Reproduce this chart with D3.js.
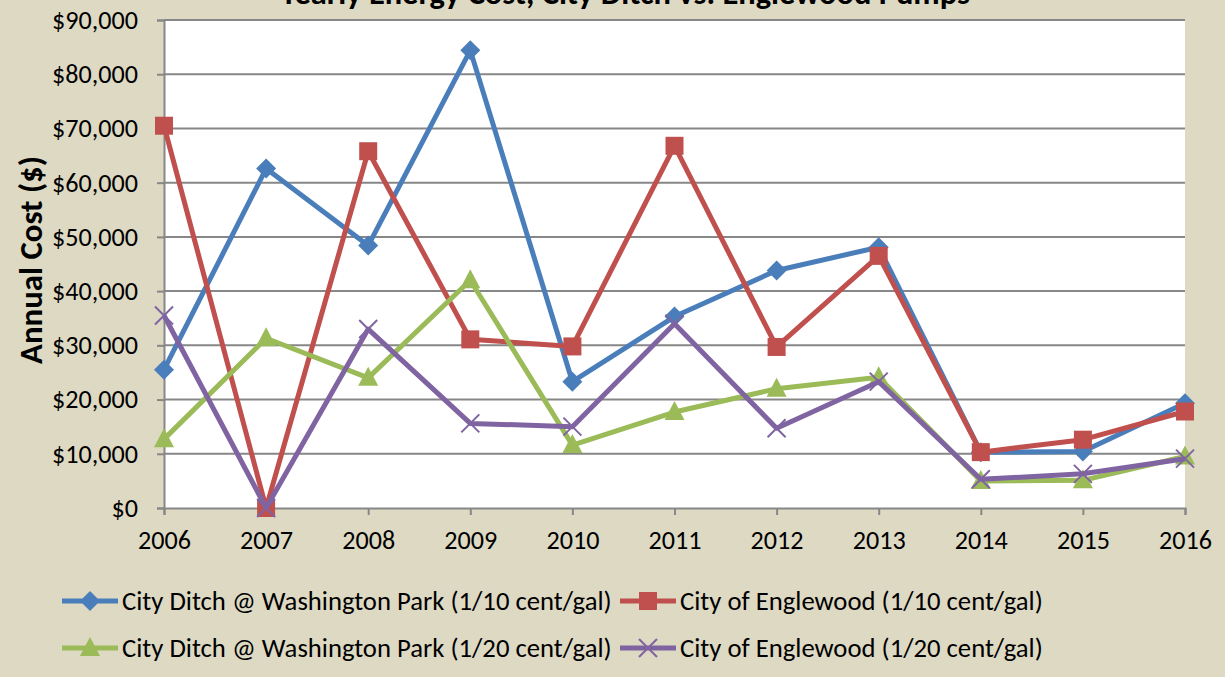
<!DOCTYPE html>
<html>
<head>
<meta charset="utf-8">
<script src="https://cdn.jsdelivr.net/npm/d3@7"></script>
<style>
  body { margin: 0; background: #ddd9c3; }
  svg { display: block; font-family: Carlito, Calibri, Lato, sans-serif; }
</style>
</head>
<body>
<div class="canvas"></div>
<script>
// chart data
const years = [2006, 2007, 2008, 2009, 2010, 2011, 2012, 2013, 2014, 2015, 2016]
const yTicks = [0, 10000, 20000, 30000, 40000, 50000, 60000, 70000, 80000, 90000]
const seriesNames = [
    'City Ditch @ Washington Park (1/10 cent/gal)',
    'City of Englewood (1/10 cent/gal)',
    'City Ditch @ Washington Park (1/20 cent/gal)',
    'City of Englewood (1/20 cent/gal)'
]
const ditch10 = [25500, 62600, 48400, 84400, 23300, 35300, 43800, 48100, 10300, 10400, 19300]
const englewood10 = [70500, 0, 65800, 31100, 29800, 66800, 29700, 46500, 10300, 12600, 17800]
const ditch20 = [12700, 31300, 24000, 42000, 11600, 17700, 22000, 24100, 5000, 5100, 9500]
const englewood20 = [35500, 0, 33000, 15600, 15000, 34000, 14700, 23300, 5300, 6300, 9100]
const titleText = 'Yearly Energy Cost, City Ditch vs. Englewood Pumps'
const yTitle = 'Annual Cost ($)'

const colors = ['#4a7ebb', '#c0504d', '#9bbb59', '#8064a2']
const symbols = ['diamond', 'square', 'triangle', 'x']
const allSeries = [ditch10, englewood10, ditch20, englewood20]

let width = 1225,
    height = 677,
    plotLeft = 164, plotRight = 1185,
    plotTop = 20, plotBottom = 508

let svg = d3.select('.canvas').append('svg')
    .attr('width', width)
    .attr('height', height)

// pick a font size so that a sample string gets the width seen in the picture
function fitSize(sample, targetWidth, bold) {
    let t = svg.append('text').text(sample)
        .attr('font-size', 100)
        .attr('font-weight', bold ? 'bold' : 'normal')
    let w = t.node().getComputedTextLength()
    t.remove()
    return 100 * targetWidth / w
}

let tickSize = fitSize('$90,000', 86)
let yearSize = fitSize('2006', 53)
let legendSize = fitSize(seriesNames[0], 490)
let yTitleSize = fitSize(yTitle, 208, true)
let titleSize = fitSize(titleText, 690, true)

let x = d3.scaleLinear().domain([2006, 2016]).range([plotLeft, plotRight])
let y = d3.scaleLinear().domain([0, 90000]).range([plotBottom, plotTop])

// plot area
svg.append('rect')
    .attr('x', plotLeft).attr('y', plotTop)
    .attr('width', plotRight - plotLeft).attr('height', plotBottom - plotTop)
    .attr('fill', '#ffffff')

// title (mostly cut off at the top, as in the source)
svg.append('text')
    .text(titleText)
    .attr('x', 625).attr('y', 4)
    .attr('text-anchor', 'middle')
    .attr('font-size', titleSize)
    .attr('font-weight', 'bold')
    .attr('fill', '#000')

// gridlines
svg.append('g')
    .selectAll('line')
    .data(yTicks.slice(1))
    .enter().append('line')
    .attr('x1', plotLeft).attr('x2', plotRight)
    .attr('y1', d => y(d)).attr('y2', d => y(d))
    .attr('stroke', '#878787')
    .attr('stroke-width', 2)

// axes
let yAxis = svg.append('g')
    .attr('transform', `translate(${plotLeft}, 0)`)
    .call(d3.axisLeft(y).tickValues(yTicks).tickSize(7).tickPadding(19)
        .tickFormat(d => '$' + d3.format(',')(d)))
let xAxis = svg.append('g')
    .attr('transform', `translate(0, ${plotBottom})`)
    .call(d3.axisBottom(x).tickValues(years).tickSize(7).tickPadding(15)
        .tickFormat(d3.format('d')))

;[[yAxis, tickSize], [xAxis, yearSize]].forEach(([ax, size]) => {
    ax.select('.domain').attr('stroke', '#878787').attr('stroke-width', 2)
    ax.selectAll('.tick line').attr('stroke', '#878787').attr('stroke-width', 2)
    ax.selectAll('.tick text')
        .attr('font-family', 'Carlito, Calibri, Lato, sans-serif')
        .attr('font-size', size)
        .attr('fill', '#000')
})

svg.append('text')
    .text(yTitle)
    .attr('transform', `translate(42, ${(plotTop + plotBottom) / 2 - 4}) rotate(-90)`)
    .attr('text-anchor', 'middle')
    .attr('font-size', yTitleSize)
    .attr('font-weight', 'bold')
    .attr('fill', '#000')

// markers
function drawMarker(g, kind, color) {
    if (kind === 'diamond') {
        g.append('path').attr('d', 'M0,-10L10,0L0,10L-10,0Z').attr('fill', color)
    } else if (kind === 'square') {
        g.append('rect').attr('x', -9).attr('y', -9).attr('width', 18).attr('height', 18).attr('fill', color)
    } else if (kind === 'triangle') {
        g.append('path').attr('d', 'M0,-11L10,8L-10,8Z').attr('fill', color)
    } else {
        g.append('path').attr('d', 'M-9,-9L9,9M-9,9L9,-9')
            .attr('stroke', color).attr('stroke-width', 2).attr('fill', 'none')
    }
}

let line = d3.line()
    .x((d, i) => x(years[i]))
    .y(d => y(d))

allSeries.forEach((values, s) => {
    let g = svg.append('g')
    g.append('path')
        .datum(values)
        .attr('d', line)
        .attr('fill', 'none')
        .attr('stroke', colors[s])
        .attr('stroke-width', 5)
        .attr('stroke-linejoin', 'round')
    g.selectAll('.mark')
        .data(values)
        .enter().append('g').classed('mark', true)
        .attr('transform', (d, i) => `translate(${x(years[i])}, ${y(d)})`)
        .each(function () { drawMarker(d3.select(this), symbols[s], colors[s]) })
})

// legend
let legendPos = [[62, 601], [620, 601], [62, 648], [620, 648]]
seriesNames.forEach((name, s) => {
    let lg = svg.append('g')
        .attr('transform', `translate(${legendPos[s][0]}, ${legendPos[s][1]})`)
    lg.append('line')
        .attr('x1', 0).attr('x2', 56)
        .attr('stroke', colors[s]).attr('stroke-width', 5)
    let m = lg.append('g').attr('transform', 'translate(28, 0)')
    drawMarker(m, symbols[s], colors[s])
    lg.append('text')
        .text(name)
        .attr('x', 60)
        .attr('dy', '0.34em')
        .attr('font-size', legendSize)
        .attr('fill', '#000')
})
</script>
</body>
</html>
